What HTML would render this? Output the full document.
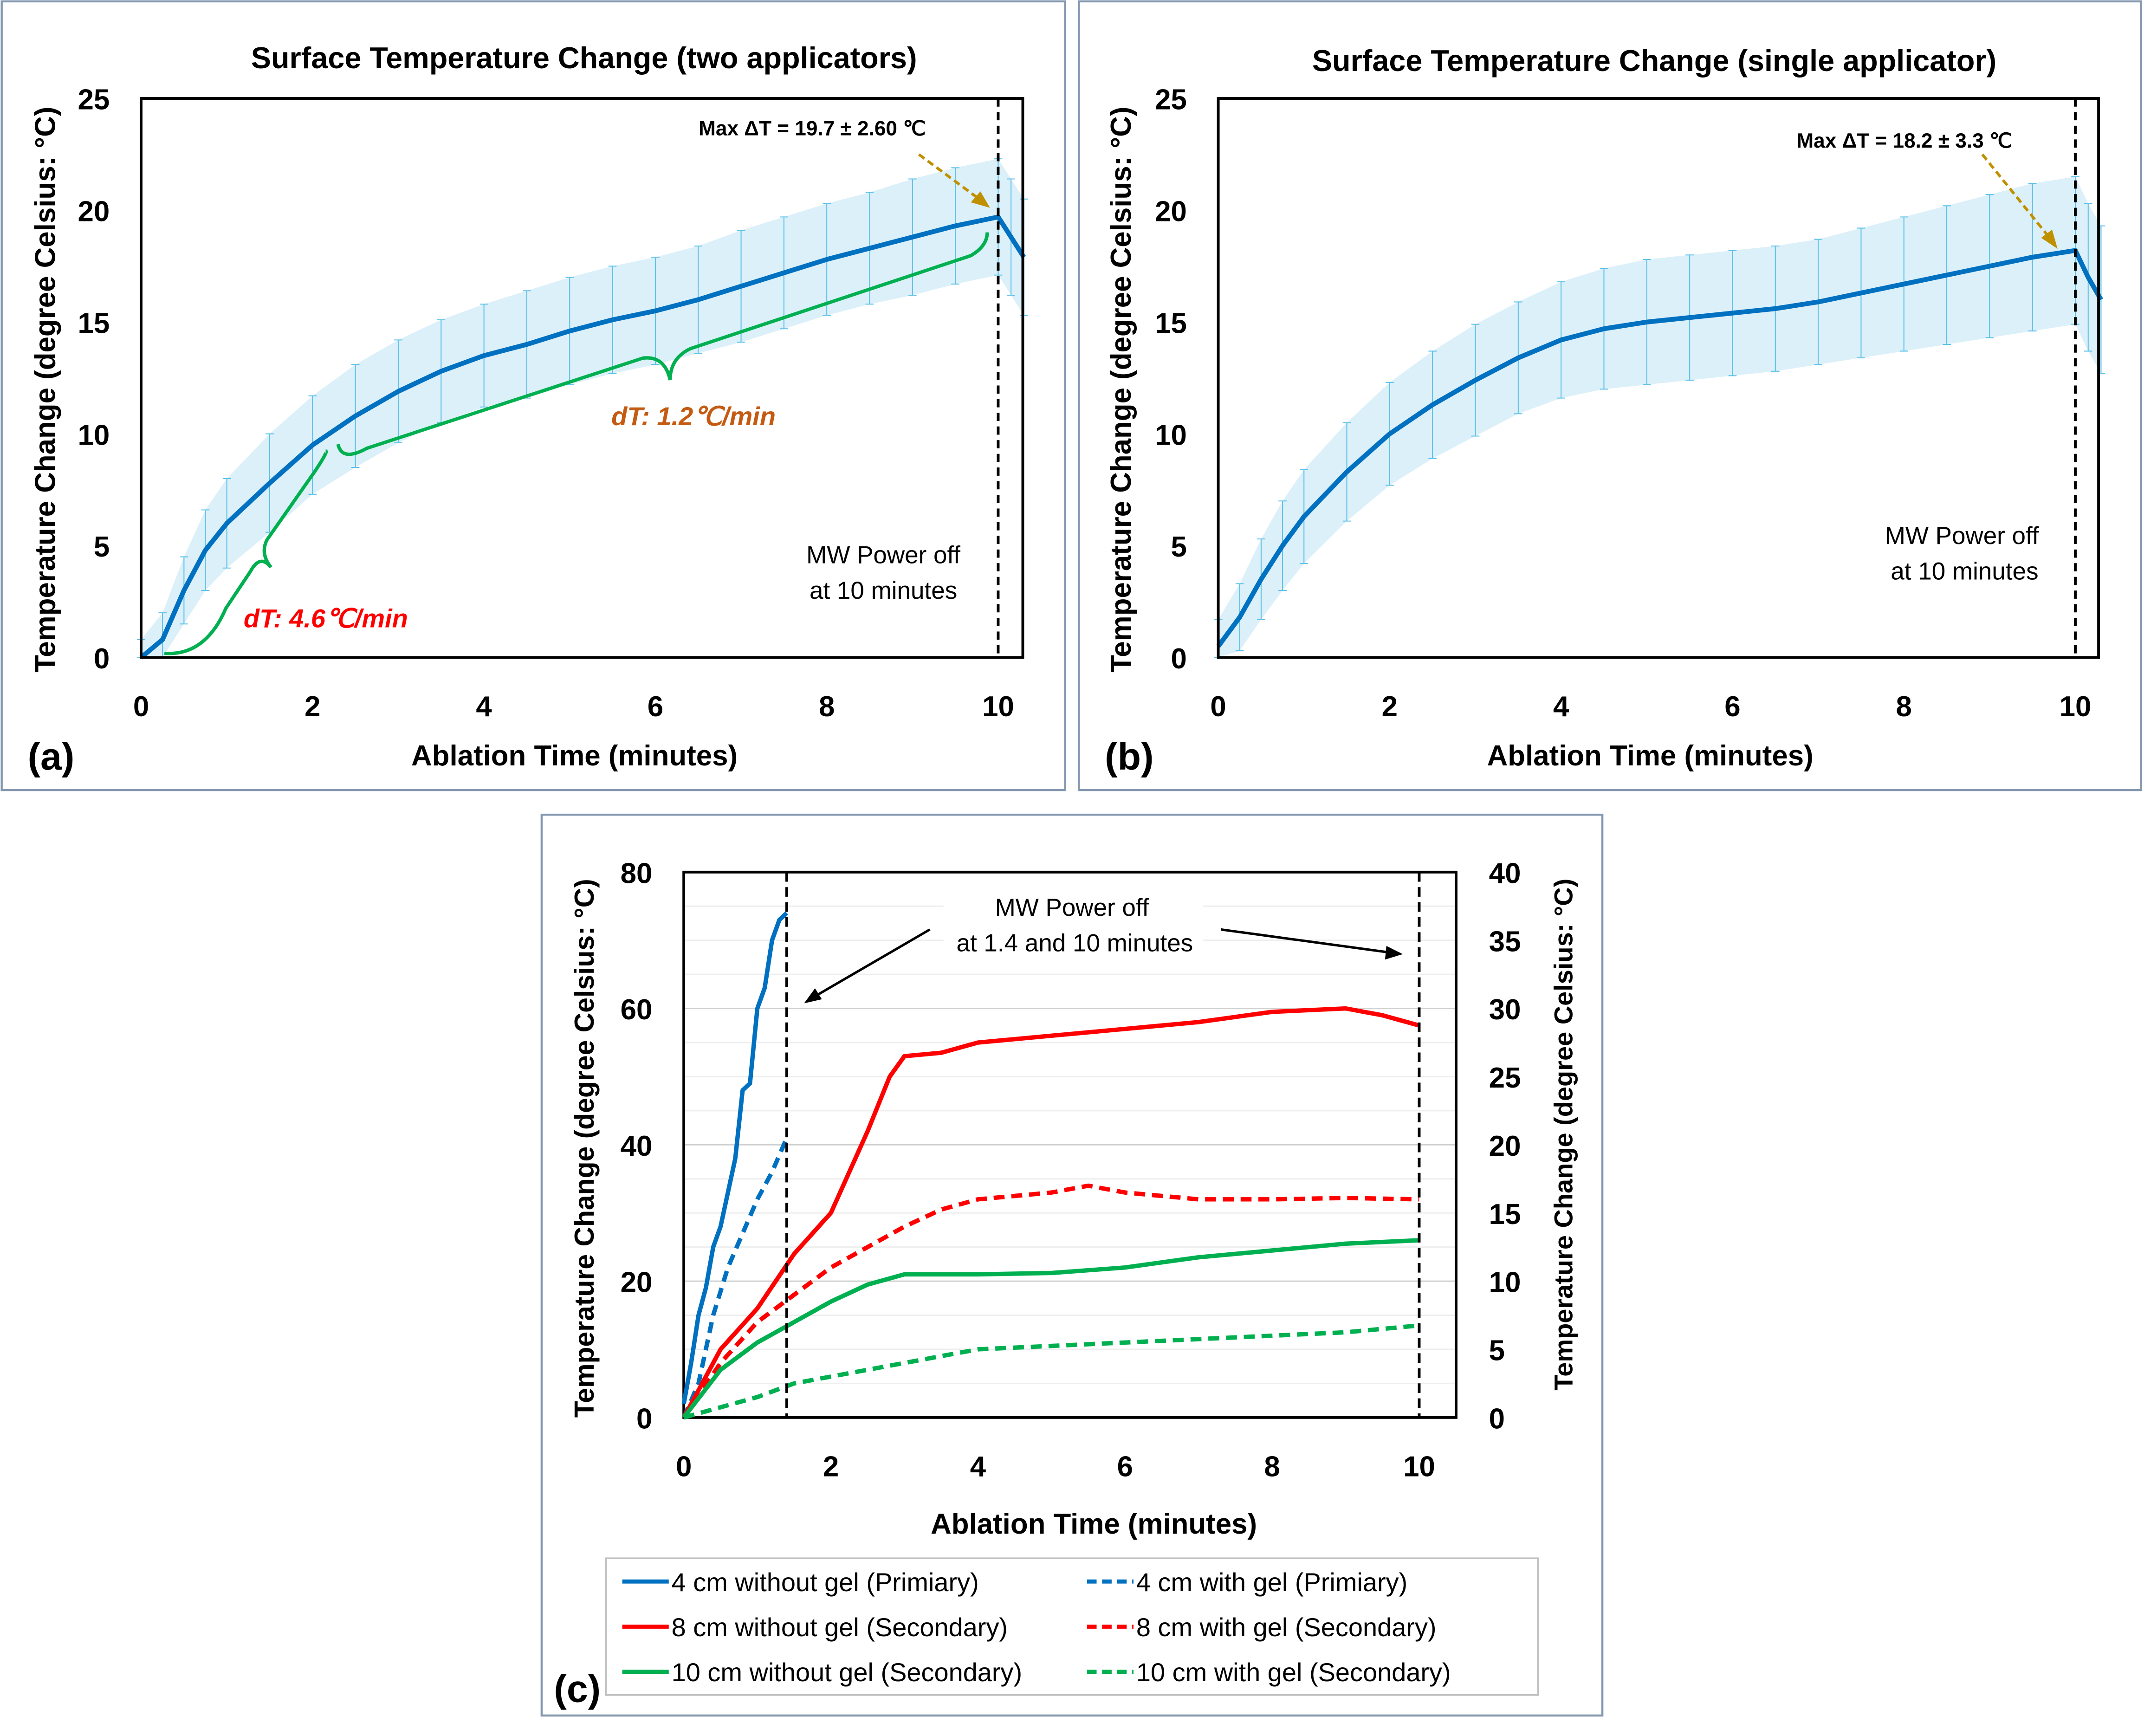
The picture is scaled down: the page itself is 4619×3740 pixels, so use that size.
<!DOCTYPE html>
<html><head><meta charset="utf-8"><style>
html,body{margin:0;padding:0;background:#fff}
svg{display:block}
text{font-family:"Liberation Sans",sans-serif}
</style></head><body>
<svg id="fig" xmlns="http://www.w3.org/2000/svg" width="4619" height="3740" viewBox="0 0 1568 1270">
<rect x="0" y="0" width="1568" height="1270" fill="#fff"/>
<g id="pa">
 <rect x="1" y="1" width="778" height="577" fill="none" stroke="#8497b0" stroke-width="1.5"/>
 <text x="427" y="50" font-size="22" font-weight="bold" text-anchor="middle">Surface Temperature Change (two applicators)</text>
 <text x="420" y="560" font-size="21" font-weight="bold" text-anchor="middle">Ablation Time (minutes)</text>
 <text transform="translate(40,285) rotate(-90)" font-size="21" font-weight="bold" text-anchor="middle">Temperature Change (degree Celsius: °C)</text>
 <text x="20" y="563" font-size="28" font-weight="bold">(a)</text>
</g>
<g id="pb">
 <rect x="789" y="1" width="777" height="577" fill="none" stroke="#8497b0" stroke-width="1.5"/>
 <text x="1210" y="52" font-size="22" font-weight="bold" text-anchor="middle">Surface Temperature Change (single applicator)</text>
 <text x="1207" y="560" font-size="21" font-weight="bold" text-anchor="middle">Ablation Time (minutes)</text>
 <text transform="translate(827,285) rotate(-90)" font-size="21" font-weight="bold" text-anchor="middle">Temperature Change (degree Celsius: °C)</text>
 <text x="808" y="563" font-size="28" font-weight="bold">(b)</text>
</g>
<g id="pc">
 <rect x="396" y="596" width="776" height="659" fill="none" stroke="#8497b0" stroke-width="1.5"/>
 <text x="800" y="1122" font-size="21" font-weight="bold" text-anchor="middle">Ablation Time (minutes)</text>
 <text transform="translate(434,840) rotate(-90)" font-size="20" font-weight="bold" text-anchor="middle">Temperature Change (degree Celsius: °C)</text>
 <text transform="translate(1150,830) rotate(-90)" font-size="19" font-weight="bold" text-anchor="middle">Temperature Change (degree Celsius: °C)</text>
 <text x="405" y="1245" font-size="28" font-weight="bold">(c)</text>
</g>
</svg>
<script>
// ---- Panel A data ----
const timesAB = [0,0.25,0.5,0.75,1,1.5,2,2.5,3,3.5,4,4.5,5,5.5,6,6.5,7,7.5,8,8.5,9,9.5,10,10.15,10.3];
const meanA = [0,0.8,3,4.8,6,7.8,9.5,10.8,11.9,12.8,13.5,14,14.6,15.1,15.5,16,16.6,17.2,17.8,18.3,18.8,19.3,19.7,18.8,17.9];
const errA = [0.8,1.2,1.5,1.8,2,2.2,2.2,2.3,2.3,2.3,2.3,2.4,2.4,2.4,2.4,2.4,2.5,2.5,2.5,2.5,2.6,2.6,2.6,2.6,2.6];
// ---- Panel B data ----
const meanB = [0.5,1.8,3.5,5,6.3,8.3,10,11.3,12.4,13.4,14.2,14.7,15,15.2,15.4,15.6,15.9,16.3,16.7,17.1,17.5,17.9,18.2,17,16];
const errB = [1.2,1.5,1.8,2,2.1,2.2,2.3,2.4,2.5,2.5,2.6,2.7,2.8,2.8,2.8,2.8,2.8,2.9,3,3.1,3.2,3.3,3.3,3.3,3.3];
const xTicksAB = [0,2,4,6,8,10];
const yTicksAB = [0,5,10,15,20,25];
// ---- Panel C data ----
const t4nog = [0,0.1,0.2,0.3,0.4,0.5,0.6,0.7,0.8,0.9,1.0,1.1,1.2,1.3,1.4];
const v4nog = [2,8,15,19,25,28,33,38,48,49,60,63,70,73,74];
const t4gel = [0,0.2,0.4,0.6,0.8,1.0,1.2,1.4];
const v4gel = [0,5,15,22,27,32,36,41];
const t8 = [0,0.5,1,1.5,2,2.5,2.8,3,3.5,4,5,6,7,8,9,9.5,10];
const v8nog = [0,10,16,24,30,42,50,53,53.5,55,56,57,58,59.5,60,59,57.5];
const t8gel = [0,0.5,1,1.5,2,2.5,3,3.5,4,5,5.5,6,7,8,9,10];
const v8gel = [0,8,14,18,22,25,28,30.5,32,33,34,33,32,32,32.2,32];
const t10 = [0,0.5,1,1.5,2,2.5,3,4,5,6,7,8,9,10];
const v10nog = [0,7,11,14,17,19.5,21,21,21.2,22,23.5,24.5,25.5,26];
const t10gel = [0,0.5,1,1.5,2,3,4,5,6,7,8,9,10];
const v10gel = [0,1.5,3,5,6,8,10,10.5,11,11.5,12,12.5,13.5];
const xTicksC = [0,2,4,6,8,10];
const yTicksCL = [0,20,40,60,80];
const yTicksCR = [0,5,10,15,20,25,30,35,40];
const legendLabels = ["4 cm without gel (Primiary)","4 cm with gel (Primiary)","8 cm without gel (Secondary)","8 cm with gel (Secondary)","10 cm without gel (Secondary)","10 cm with gel (Secondary)"];

const NS="http://www.w3.org/2000/svg";
function mk(tag,attrs,parent,txt){const e=document.createElementNS(NS,tag);for(const k in attrs)e.setAttribute(k,attrs[k]);if(txt!==undefined)e.textContent=txt;parent.appendChild(e);return e;}

function errPanel(g,X0,X10,Xr,Ybot,Ytop,mean,err,nm){
  const sx=t=>X0+(X10-X0)*t/10, sy=v=>Ybot-(Ybot-Ytop)*v/25;
  let up=timesAB.map((t,i)=>sx(t)+','+sy(mean[i]+err[i]));
  let lo=timesAB.map((t,i)=>sx(t)+','+sy(Math.max(0,mean[i]-err[i]))).reverse();
  const band=mk('polygon',{points:up.concat(lo).join(' '),fill:'#cdeaf6',opacity:'0.7'},g);
  
  
  timesAB.forEach((t,i)=>{
    const x=sx(t),y1=sy(mean[i]+err[i]),y2=sy(Math.max(0,mean[i]-err[i]));
    const l=mk('path',{d:`M${x},${y1}V${y2}M${x-3},${y1}h6M${x-3},${y2}h6`,stroke:'#5bc0e8','stroke-width':0.7,fill:'none'},g);
    
    
  });
  const ln=mk('polyline',{points:timesAB.map((t,i)=>sx(t)+','+sy(mean[i])).join(' '),fill:'none',stroke:'#0070c0','stroke-width':3.5,'stroke-linejoin':'round'},g);
  
  
  mk('rect',{x:X0,y:Ytop,width:Xr-X0,height:Ybot-Ytop,fill:'none',stroke:'#000','stroke-width':2},g);
  yTicksAB.forEach(v=>{const t=mk('text',{x:X0-23,y:sy(v)+8,'font-size':21,'font-weight':'bold','text-anchor':'end'},g,v);
    
    });
  xTicksAB.forEach(v=>{const t=mk('text',{x:sx(v),y:Ybot+43,'font-size':21,'font-weight':'bold','text-anchor':'middle'},g,v);
    
    });
  const d=mk('line',{x1:X10,x2:X10,y1:Ytop,y2:Ybot,stroke:'#000','stroke-width':2,'stroke-dasharray':'6,4'},g);
  
  
  return {sx,sy};
}
const ga=document.getElementById('pa'), gb=document.getElementById('pb'), gc=document.getElementById('pc');
errPanel(ga,103,730,748,481,72,meanA,errA,'panel-a');
errPanel(gb,891,1518,1535,481,72,meanB,errB,'panel-b');

mk('path',{d:'M120,478 Q150,480 165,445 L183,418 Q190,405 198,415 Q190,405 195,395 L230,345 Q240,330 238,330',fill:'none',stroke:'#00b050','stroke-width':2.5},ga);
mk('path',{d:'M247,325 Q250,338 268,328 L470,262 Q486,260 490,278 Q490,262 505,255 L710,187 Q722,180 722,170',fill:'none',stroke:'#00b050','stroke-width':2.5},ga);
mk('text',{x:178,y:459,'font-size':19,'font-style':'italic','font-weight':'bold',fill:'#ff0000','font-family':'Liberation Serif, serif'},ga,'dT: 4.6℃/min');
mk('text',{x:447,y:311,'font-size':19,'font-style':'italic','font-weight':'bold',fill:'#c55a11','font-family':'Liberation Serif, serif'},ga,'dT: 1.2℃/min');
mk('text',{x:646,y:412,'font-size':18,'text-anchor':'middle'},ga,'MW Power off');
mk('text',{x:646,y:438,'font-size':18,'text-anchor':'middle'},ga,'at 10 minutes');
mk('text',{x:594,y:99,'font-size':15,'font-weight':'bold','text-anchor':'middle'},ga,'Max ΔT = 19.7 ± 2.60 ℃');
mk('path',{d:'M672,113 L718,147',stroke:'#bf9000','stroke-width':2,'stroke-dasharray':'5,3',fill:'none'},ga);
mk('path',{d:'M724,152 L710,148 L717,140 Z',fill:'#bf9000'},ga);
mk('text',{x:1435,y:398,'font-size':18,'text-anchor':'middle'},gb,'MW Power off');
mk('text',{x:1437,y:424,'font-size':18,'text-anchor':'middle'},gb,'at 10 minutes');
mk('text',{x:1393,y:108,'font-size':15,'font-weight':'bold','text-anchor':'middle'},gb,'Max ΔT = 18.2 ± 3.3 ℃');
mk('path',{d:'M1450,113 L1500,175',stroke:'#bf9000','stroke-width':2,'stroke-dasharray':'5,3',fill:'none'},gb);
mk('path',{d:'M1505,182 L1493,174 L1501,168 Z',fill:'#bf9000'},gb);

const X0=500,X10=1038,XR=1065,YB=1037,YT=638;
const sx=t=>X0+(X10-X0)*t/10, sy=v=>YB-(YB-YT)*v/80, syR=v=>YB-(YB-YT)*v/40;
for(let v=5;v<80;v+=5){const l=mk('line',{x1:X0,x2:XR,y1:sy(v),y2:sy(v),stroke:v%20==0?'#d0d0d0':'#eeeeee','stroke-width':1},gc);
  
  }
mk('rect',{x:X0,y:YT,width:XR-X0,height:YB-YT,fill:'none',stroke:'#000','stroke-width':2},gc);
yTicksCL.forEach(v=>{const t=mk('text',{x:477,y:sy(v)+8,'font-size':21,'font-weight':'bold','text-anchor':'end'},gc,v);
  
  });
yTicksCR.forEach(v=>{const t=mk('text',{x:1089,y:syR(v)+8,'font-size':21,'font-weight':'bold','text-anchor':'start'},gc,v);
  
  });
xTicksC.forEach(v=>{const t=mk('text',{x:sx(v),y:1080,'font-size':21,'font-weight':'bold','text-anchor':'middle'},gc,v);
  
  });
const series=[[t4nog,v4nog,'#0070c0',false,'series-4cm-no-gel'],[t4gel,v4gel,'#0070c0',true,'series-4cm-gel'],
 [t8,v8nog,'#ff0000',false,'series-8cm-no-gel'],[t8gel,v8gel,'#ff0000',true,'series-8cm-gel'],
 [t10,v10nog,'#00b050',false,'series-10cm-no-gel'],[t10gel,v10gel,'#00b050',true,'series-10cm-gel']];
series.forEach(s=>{const p=mk('polyline',{points:s[0].map((t,i)=>sx(t)+','+sy(s[1][i])).join(' '),fill:'none',stroke:s[2],'stroke-width':3.2,'stroke-linejoin':'round'},gc);
  if(s[3])p.setAttribute('stroke-dasharray','8,5');
  
  });
[1.4,10].forEach(t=>{const l=mk('line',{x1:sx(t),x2:sx(t),y1:YT,y2:YB,stroke:'#000','stroke-width':2,'stroke-dasharray':'7,4'},gc);
  
  });
mk('rect',{x:690,y:650,width:190,height:52,fill:'#fff'},gc);
mk('text',{x:784,y:670,'font-size':18,'text-anchor':'middle'},gc,'MW Power off');
mk('text',{x:786,y:696,'font-size':18,'text-anchor':'middle'},gc,'at 1.4 and 10 minutes');
mk('path',{d:'M680,680 L594,730',stroke:'#000','stroke-width':1.8},gc);
mk('path',{d:'M588,734 L596,723 L601,731 Z',fill:'#000'},gc);
mk('path',{d:'M893,680 L1018,697',stroke:'#000','stroke-width':1.8},gc);
mk('path',{d:'M1026,698 L1014,692 L1013,702 Z',fill:'#000'},gc);
const lg=mk('g',{},gc);


mk('rect',{x:443,y:1140,width:682,height:100,fill:'#fff',stroke:'#bfbfbf','stroke-width':1.2},lg);
series.forEach((s,i)=>{const col=i%2,row=Math.floor(i/2);const lx=col?795:455,ly=1157+row*33;
  const l=mk('line',{x1:lx,x2:lx+34,y1:ly,y2:ly,stroke:s[2],'stroke-width':3},lg);
  if(s[3])l.setAttribute('stroke-dasharray','7,4');
  
  
  const t=mk('text',{x:lx+36,y:ly+7,'font-size':19},lg,legendLabels[i]);
  
  });
</script>
</body></html>
